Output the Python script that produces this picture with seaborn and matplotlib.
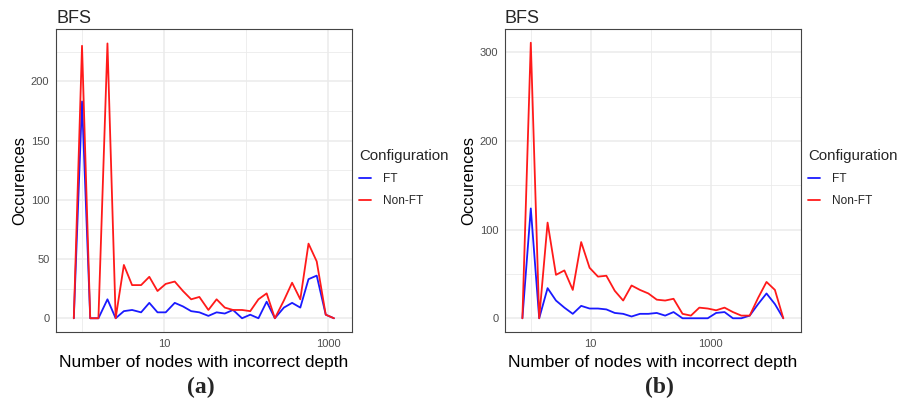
import numpy as np
import pandas as pd
import matplotlib
matplotlib.use("Agg")
import matplotlib.pyplot as plt
import seaborn as sns
from matplotlib.ticker import FixedLocator, NullFormatter

# ---------------- data ----------------
# log10 of the bin centres (frequency polygon, padded with a zero bin at each end)
xa_log = [-0.10, 0.00, 0.10, 0.20, 0.31, 0.41, 0.51, 0.61, 0.72, 0.82, 0.92,
          1.02, 1.13, 1.23, 1.33, 1.43, 1.54, 1.64, 1.74, 1.84, 1.95, 2.05,
          2.15, 2.25, 2.35, 2.46, 2.56, 2.66, 2.76, 2.86, 2.97, 3.07]
ft_a = [0, 183, 0, 0, 16, 0, 6, 7, 5, 13, 5, 5, 13, 10, 6, 5, 2, 5, 4, 7, 0, 3,
        0, 14, 0, 9, 13, 9, 33, 36, 3, 0]
nonft_a = [0, 230, 0, 0, 232, 0, 45, 28, 28, 35, 23, 29, 31, 23, 16, 18, 7, 16,
           9, 7, 7, 6, 16, 21, 0, 15, 30, 16, 63, 48, 3, 0]

xb_log = [-0.14, 0.00, 0.14, 0.28, 0.42, 0.56, 0.70, 0.84, 0.98, 1.12, 1.26,
          1.40, 1.54, 1.68, 1.82, 1.96, 2.10, 2.24, 2.38, 2.53, 2.67, 2.81,
          2.95, 3.09, 3.23, 3.37, 3.51, 3.65, 3.79, 3.93, 4.07, 4.21]
ft_b = [0, 124, 0, 34, 20, 12, 5, 14, 11, 11, 10, 6, 5, 2, 5, 5, 6, 3, 7, 0, 0,
        0, 0, 6, 7, 0, 0, 3, 16, 28, 16, 0]
nonft_b = [0, 311, 0, 108, 49, 54, 32, 86, 57, 47, 48, 31, 20, 37, 32, 28, 21,
           20, 22, 5, 3, 12, 11, 9, 12, 7, 3, 3, 23, 41, 32, 0]

configs = ["FT", "Non-FT"]
x_ticks = [10, 1000]
x_tick_labels = ["10", "1000"]
ya_ticks = [0, 50, 100, 150, 200]
yb_ticks = [0, 100, 200, 300]
panel_labels = ["(a)", "(b)"]

# ---------------- style ----------------
sns.set_style("white")
plt.rcParams["font.family"] = ["Liberation Sans", "DejaVu Sans"]
colors = {"FT": "#1A1AFF", "Non-FT": "#FF1A1A"}
GRID = "#EBEBEB"
DARK = "#444444"
TXT = "#4D4D4D"

W, H = 899, 400
fig = plt.figure(figsize=(W / 100, H / 100), dpi=100)


def make_df(xlog, ft, nonft):
    x = np.power(10.0, np.array(xlog))
    return pd.DataFrame({
        "x": np.concatenate([x, x]),
        "Occurences": ft + nonft,
        "Configuration": ["FT"] * len(ft) + ["Non-FT"] * len(nonft),
    })


def draw(left_px, df, xlim_log, ylim, yticks, xminor, legend_x, plabel, plabel_x):
    ax = fig.add_axes([left_px / W, 1 - 332 / H, 296 / W, 303 / H])
    sns.lineplot(data=df, x="x", y="Occurences", hue="Configuration",
                 hue_order=configs, palette=colors, estimator=None,
                 linewidth=1.3, ax=ax, zorder=3)
    ax.set_xscale("log")
    ax.set_xlim(10 ** xlim_log[0], 10 ** xlim_log[1])
    ax.set_ylim(*ylim)

    ax.set_xticks(x_ticks)
    ax.set_xticklabels(x_tick_labels)
    ax.xaxis.set_minor_locator(FixedLocator(xminor))
    ax.xaxis.set_minor_formatter(NullFormatter())
    ax.set_yticks(yticks)
    ax.set_yticklabels([str(t) for t in yticks])
    step = yticks[1] - yticks[0]
    ax.yaxis.set_minor_locator(FixedLocator([t + step / 2 for t in yticks]))

    ax.grid(True, which="major", color=GRID, linewidth=1.1, zorder=0)
    ax.grid(True, which="minor", color=GRID, linewidth=0.6, zorder=0)
    ax.set_axisbelow(True)
    ax.tick_params(which="major", length=2.75, width=0.6, color=DARK,
                   labelsize=8, labelcolor=TXT, pad=2)
    ax.tick_params(which="minor", length=0)
    for s in ax.spines.values():
        s.set_color(DARK)
        s.set_linewidth(0.8)

    ax.set_xlabel("Number of nodes with incorrect depth", fontsize=12.5,
                  color="black")
    ax.xaxis.set_label_coords(0.5, -0.075)
    ax.set_ylabel("Occurences", fontsize=12, color="black")
    ax.yaxis.set_label_coords(-0.098, 0.5)
    ax.set_title("BFS", loc="left", fontsize=13, pad=4)

    h, l = ax.get_legend_handles_labels()
    ax.get_legend().remove()
    leg = ax.legend(h, l, title="Configuration", loc="upper left",
                    bbox_to_anchor=(legend_x / W, 1 - 149 / H),
                    bbox_transform=fig.transFigure, frameon=False,
                    fontsize=8.6, title_fontsize=10.8, handlelength=1.0,
                    handletextpad=1.0, labelspacing=0.85, borderpad=0,
                    borderaxespad=0, alignment="left")
    for line in leg.get_lines():
        line.set_linewidth(1.3)

    fig.text(plabel_x / W, 1 - 387 / H, plabel, ha="center", va="center",
             fontsize=17, fontweight="bold",
             family=["Liberation Serif", "DejaVu Serif"])
    return ax


df_a = make_df(xa_log, ft_a, nonft_a)
df_b = make_df(xb_log, ft_b, nonft_b)

draw(56, df_a, (-0.317, 3.29), (-11.6, 244.2), ya_ticks, [1, 100],
     359, panel_labels[0], 200.5)
draw(505, df_b, (-0.43, 4.505), (-15.5, 326.5), yb_ticks, [1, 100, 10000],
     808, panel_labels[1], 659)

fig.savefig("out.png", dpi=100)
